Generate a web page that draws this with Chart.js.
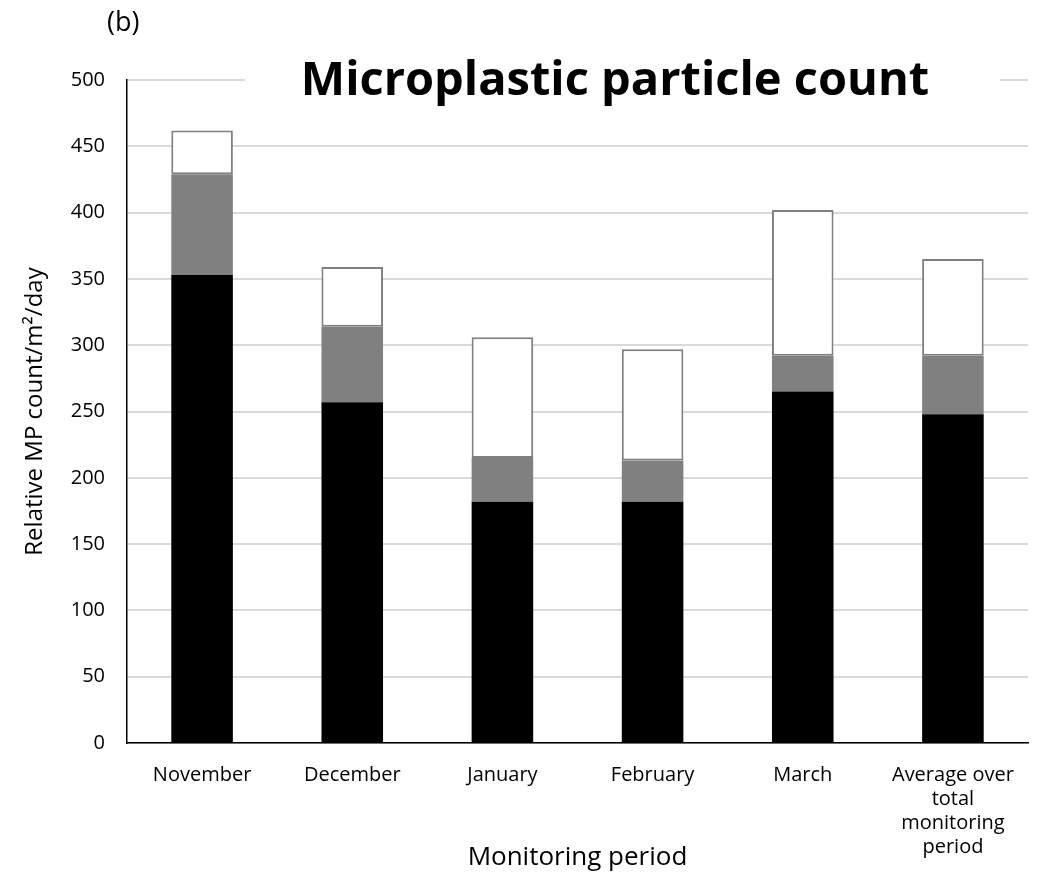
<!DOCTYPE html>
<html>
<head>
<meta charset="utf-8">
<script src="https://cdn.jsdelivr.net/npm/chart.js@4.4.1/dist/chart.umd.min.js"></script>
<style>
  html, body { margin: 0; padding: 0; background: #fff; }
  #wrap { width: 1038px; height: 879px; position: relative; }
</style>
</head>
<body>
<div id="wrap"><canvas id="c" width="1038" height="879"></canvas></div>
<script>
const categories = ["November", "December", "January", "February", "March", ["Average over", "total", "monitoring", "period"]];
const seriesBlack = [353, 257, 182, 182, 265, 248];
const seriesGray = [76, 57, 33, 31, 27, 44];
const seriesWhite = [33, 45, 91, 84, 110, 73];
const yTicks = [0, 50, 100, 150, 200, 250, 300, 350, 400, 450, 500];

const FONT = "'Open Sans', 'Liberation Sans', sans-serif";

const titlePlugin = {
  id: 'overlayTitle',
  afterDraw(chart) {
    const ctx = chart.ctx;
    ctx.save();
    ctx.fillStyle = '#ffffff';
    ctx.fillRect(245, 50, 755, 56);
    ctx.fillStyle = '#000';
    ctx.font = "bold 47px " + FONT;
    ctx.textAlign = 'center';
    ctx.textBaseline = 'alphabetic';
    ctx.fillText('Microplastic particle count', 615, 95);
    ctx.font = "27px " + FONT;
    ctx.textAlign = 'left';
    ctx.textBaseline = 'middle';
    ctx.fillText('(b)', 107, 23);
    ctx.restore();
  }
};

new Chart(document.getElementById('c'), {
  type: 'bar',
  data: {
    labels: categories,
    datasets: [
      { label: 'A', data: seriesBlack, backgroundColor: '#000000', borderWidth: 0, barPercentage: 0.82, categoryPercentage: 0.5 },
      { label: 'B', data: seriesGray, backgroundColor: '#808080', borderColor: '#808080', borderWidth: 0, barPercentage: 0.82, categoryPercentage: 0.5 },
      { label: 'C', data: seriesWhite, backgroundColor: '#ffffff', borderColor: '#7f7f7f', borderWidth: 2, borderSkipped: false, barPercentage: 0.82, categoryPercentage: 0.5 }
    ]
  },
  options: {
    responsive: false,
    animation: false,
    devicePixelRatio: 1,
    layout: { padding: { left: 21, right: 10, top: 80, bottom: 0 } },
    plugins: { legend: { display: false }, tooltip: { enabled: false }, title: { display: false } },
    scales: {
      x: {
        stacked: true,
        grid: { display: false, drawTicks: false },
        border: { display: true, color: '#000', width: 1.5 },
        ticks: { color: '#000', font: { family: FONT, size: 20 }, padding: 20, maxRotation: 0, autoSkip: false },
        title: { display: true, text: 'Monitoring period', color: '#000', font: { family: FONT, size: 26 }, padding: { top: 10, bottom: 6 } },
        afterFit(scale) { scale.height = 136; }
      },
      y: {
        stacked: true,
        min: 0, max: 500,
        afterBuildTicks(scale) { scale.ticks = yTicks.map(v => ({ value: v })); },
        grid: { color: '#d9d9d9', lineWidth: 2, drawTicks: false },
        border: { display: true, color: '#000', width: 1.5 },
        ticks: { color: '#000', font: { family: FONT, size: 20 }, padding: 22 },
        title: { display: true, text: 'Relative MP count/m²/day', color: '#000', font: { family: FONT, size: 24 }, padding: { top: 0, bottom: 0 } },
        afterFit(scale) { scale.width = 106; }
      }
    }
  },
  plugins: [titlePlugin]
});
</script>
</body>
</html>
